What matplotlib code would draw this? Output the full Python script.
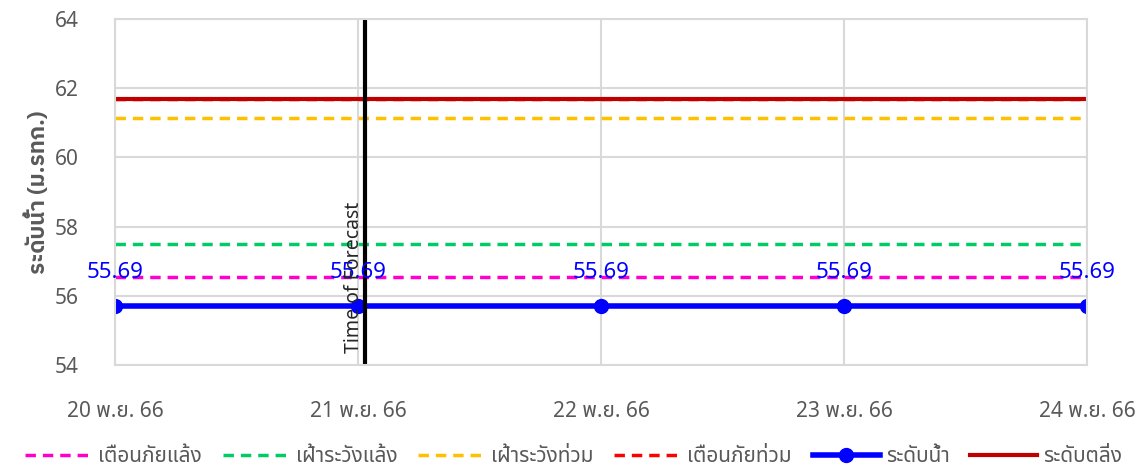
import matplotlib.pyplot as plt

plt.rcParams['font.family'] = ['Noto Sans Thai', 'Noto Sans', 'DejaVu Sans']

# data
dates = ['20 พ.ย. 66', '21 พ.ย. 66', '22 พ.ย. 66', '23 พ.ย. 66', '24 พ.ย. 66']
water_level = [55.69, 55.69, 55.69, 55.69, 55.69]
drought_warn = 56.55      # เตือนภัยแล้ง
drought_watch = 57.5      # เฝ้าระวังแล้ง
flood_watch = 61.15       # เฝ้าระวังท่วม
flood_warn = 61.68        # เตือนภัยท่วม
bank_level = 61.68        # ระดับตลิ่ง
forecast_pos = 1.03

grey = '#595959'
x = list(range(len(dates)))

fig = plt.figure(figsize=[11.47, 4.66], dpi=100)
ax = fig.add_axes([0.1003, 0.217, 0.8474, 0.742])

ax.plot([x[0], x[-1]], [drought_warn]*2, '--', color='#ff00cc', lw=2.5, dashes=(3, 2), label='เตือนภัยแล้ง')
ax.plot([x[0], x[-1]], [drought_watch]*2, '--', color='#00cc66', lw=2.5, dashes=(3, 2), label='เฝ้าระวังแล้ง')
ax.plot([x[0], x[-1]], [flood_watch]*2, '--', color='#ffc000', lw=2.5, dashes=(3, 2), label='เฝ้าระวังท่วม')
ax.plot([x[0], x[-1]], [flood_warn]*2, '--', color='#ff0000', lw=2.5, dashes=(3, 2), label='เตือนภัยท่วม')
ax.plot(x, water_level, '-o', color='#0000ff', lw=4, ms=10, label='ระดับน้ำ')
ax.plot([x[0], x[-1]], [bank_level]*2, '-', color='#c00000', lw=3, label='ระดับตลิ่ง')

for xi, v in zip(x, water_level):
    ax.annotate('{:.2f}'.format(v), (xi, v), xytext=(0, 17), textcoords='offset points',
                ha='center', va='bottom', color='#0000ff', fontsize=16)

ax.axvline(forecast_pos, color='black', lw=3)
ax.text(forecast_pos - 0.005, 54.35, 'Time of Forecast', rotation=90, ha='right', va='bottom',
        fontsize=14, color='#262626')

ax.set_xlim(x[0], x[-1])
ax.set_ylim(54, 64)
ax.set_yticks(range(54, 65, 2))
ax.set_xticks(x)
ax.set_xticklabels(dates)
ax.grid(True, color='#d9d9d9', lw=1.5)
ax.set_axisbelow(True)
for s in ax.spines.values():
    s.set_color('#d9d9d9')
    s.set_linewidth(1.5)
ax.tick_params(length=0, colors=grey, labelsize=15)
ax.tick_params(axis='x', pad=26)
ax.tick_params(axis='y', pad=26)
ax.set_ylabel('ระดับน้ำ (ม.รทก.)', fontsize=16, fontweight='bold', color=grey, labelpad=4,
              family=['IBM Plex Sans Thai', 'Noto Sans'])

ax.legend(loc='center', bbox_to_anchor=(0.472, -0.265), ncol=6, frameon=False,
          fontsize=15, handlelength=3.2, columnspacing=1.0, handletextpad=0.3, labelcolor=grey)

plt.savefig('out.png')
